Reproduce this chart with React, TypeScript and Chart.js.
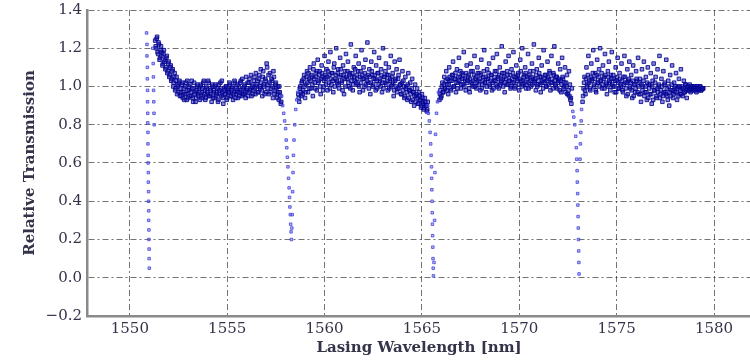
import React, { useEffect, useRef } from 'react';
import { Chart, registerables } from 'chart.js';

Chart.register(...registerables);

// Axis ticks and titles
const xTicks = [1550, 1555, 1560, 1565, 1570, 1575, 1580];
const yTicks = [-0.2, 0.0, 0.2, 0.4, 0.6, 0.8, 1.0, 1.2, 1.4];
const xTitle = 'Lasing Wavelength [nm]';
const yTitle = 'Relative Transmission';
const xMin = 1547.8;
const xMax = 1581.9;

// Wavelength sweep step of the laser (nm)
const sweepStep = 0.05;

// Sweep A, band 1: 1551.30 .. 1557.75 nm
const band1Start = 1551.3;
const band1 = [
  1.24, 1.20, 1.26, 1.17, 1.22, 1.15, 1.21, 1.18, 1.12, 1.19,
  1.14, 1.10, 1.16, 1.08, 1.13, 1.06, 1.11, 1.04, 1.09, 1.02,
  1.07, 0.99, 1.05, 1.01, 0.97, 1.03,
  0.99, 0.95, 1.02, 0.97, 0.93, 1.00, 0.96, 1.03, 0.94, 0.98,
  1.01, 0.95, 0.99, 0.92, 1.02, 0.97, 0.94, 1.00, 0.96, 0.99,
  0.93, 1.01, 0.97, 0.95, 1.03, 0.98, 0.94, 0.99, 0.96, 1.02,
  0.95, 0.98, 0.92, 1.00, 0.97, 0.94, 1.01, 0.96, 0.99, 0.93,
  0.98, 1.02, 0.95, 0.97, 0.91, 0.99, 0.96, 1.00, 0.94, 0.98,
  0.97, 1.01, 0.95, 0.99, 0.93, 0.97, 1.02, 0.96, 0.98, 0.94,
  1.00, 0.97, 1.03, 0.95, 0.99, 0.96, 1.01, 0.94, 0.98, 1.02,
  0.97, 1.04, 0.99, 0.95, 1.01, 0.98, 1.05, 0.96, 1.00, 1.03,
  0.97, 1.06, 0.99, 1.02, 0.95, 1.08, 1.00, 1.04, 0.97, 1.10,
  1.01, 0.96, 1.07, 0.99, 1.03, 0.94, 1.05, 0.98,
  1.02, 0.96, 1.00, 0.93, 0.97, 0.91,
];
// Sweep B, band 1
const band1bStart = 1551.325;
const band1b = [
  1.21, 1.25, 1.18, 1.23, 1.14, 1.19, 1.16, 1.11, 1.17, 1.13,
  1.09, 1.15, 1.07, 1.12, 1.05, 1.10, 1.03, 1.08, 1.00, 1.05,
  0.98, 1.03, 0.96, 1.00, 1.02, 0.95,
  0.97, 1.01, 0.94, 0.99, 0.96, 1.02, 0.93, 0.98, 1.00, 0.95,
  0.97, 1.03, 0.94, 0.99, 0.96, 0.92, 0.98, 1.01, 0.95, 0.97,
  1.00, 0.94, 0.99, 1.02, 0.96, 0.93, 1.00, 0.97, 1.03, 0.95,
  0.99, 0.96, 1.01, 0.94, 0.98, 1.00, 0.95, 0.97, 0.92, 1.01,
  0.96, 0.99, 1.03, 0.94, 0.98, 0.96, 1.00, 0.93, 0.99, 0.97,
  1.02, 0.95, 0.98, 1.00, 0.96, 1.03, 0.94, 0.99, 1.01, 0.97,
  0.95, 1.02, 0.98, 1.04, 0.96, 1.00, 0.97, 1.05, 0.99, 0.95,
  1.02, 0.98, 1.06, 1.00, 0.96, 1.03, 0.99, 1.07, 1.01, 0.97,
  1.04, 1.00, 1.09, 0.98, 1.05, 1.01, 0.96, 1.03, 1.12, 0.99,
  1.06, 1.02, 0.97, 1.04, 1.00, 1.08, 0.96, 1.01, 0.99, 0.94,
  0.97, 1.00, 0.95, 0.92,
];

// Sweep A, band 2: 1558.65 .. 1565.30 nm
const band2Start = 1558.65;
const band2 = [
  0.96, 0.92, 1.00, 0.95, 1.03, 0.98, 1.06, 0.94, 1.01, 1.08,
  0.97, 1.04, 1.10, 0.99, 1.05, 0.95, 1.12, 1.02, 1.07, 0.98,
  1.14, 1.03, 1.08, 0.96, 1.11, 1.05, 1.00, 1.16, 1.04, 1.09,
  0.98, 1.13, 1.06, 1.18, 1.01, 1.07, 0.97, 1.12, 1.04, 1.20,
  1.02, 1.09, 0.99, 1.15, 1.06, 1.03, 1.11, 0.96, 1.08, 1.17,
  1.04, 1.13, 1.00, 1.07, 1.22, 1.05, 0.98, 1.10, 1.03, 1.16,
  1.06, 1.01, 1.12, 0.97, 1.08, 1.19, 1.04, 1.10, 1.00, 1.14,
  1.05, 1.23, 1.02, 1.09, 0.96, 1.13, 1.06, 1.01, 1.18, 1.04,
  1.11, 0.99, 1.07, 1.15, 1.03, 1.09, 0.97, 1.20, 1.05, 1.02,
  1.12, 1.06, 0.98, 1.10, 1.03, 1.16, 1.01, 1.07, 0.95, 1.13,
  1.04, 1.09, 0.99, 1.06, 1.14, 1.01, 0.96, 1.08, 1.03, 0.94,
  1.05, 1.00, 0.93, 1.07, 0.98, 1.02, 0.92, 1.04, 0.97, 0.90,
  1.01, 0.95, 0.99, 0.91, 0.97, 0.93, 0.89, 0.96, 0.92, 0.88,
  0.94, 0.90, 0.87, 0.92,
];
// Sweep B, band 2
const band2bStart = 1558.675;
const band2b = [
  0.94, 0.99, 0.97, 1.02, 0.96, 1.04, 1.00, 0.97, 1.05, 1.02,
  1.07, 0.99, 1.03, 1.06, 1.01, 1.09, 1.04, 0.99, 1.05, 1.08,
  1.02, 1.06, 1.00, 1.04, 1.07, 0.98, 1.03, 1.06, 1.01, 1.05,
  1.08, 1.02, 0.99, 1.04, 1.07, 1.03, 1.10, 1.00, 1.06, 1.03,
  1.07, 1.01, 1.05, 1.09, 1.02, 0.98, 1.06, 1.04, 1.00, 1.05,
  1.08, 1.02, 1.06, 0.99, 1.03, 1.07, 1.01, 1.05, 1.09, 1.02,
  1.04, 1.08, 1.00, 1.05, 1.02, 1.06, 0.98, 1.04, 1.07, 1.01,
  1.03, 1.06, 0.99, 1.05, 1.02, 1.08, 1.00, 1.04, 1.06, 0.98,
  1.03, 1.07, 1.01, 1.04, 1.00, 1.06, 1.02, 0.99, 1.05, 1.08,
  1.01, 1.03, 1.06, 0.99, 1.04, 1.00, 1.05, 1.02, 0.98, 1.03,
  1.00, 0.97, 1.04, 0.99, 1.01, 0.96, 1.02, 0.98, 1.00, 0.95,
  0.99, 0.97, 1.01, 0.94, 0.98, 0.96, 0.99, 0.93, 0.97, 0.95,
  0.92, 0.96, 0.94, 0.91, 0.95, 0.93, 0.90, 0.94, 0.91, 0.89,
  0.92, 0.90, 0.88,
];

// Sweep A, band 3: 1565.90 .. 1572.70 nm
const band3Start = 1565.9;
const band3 = [
  0.93, 0.98, 0.95, 1.02, 0.97, 1.05, 0.99, 1.08, 1.01, 0.96,
  1.10, 1.03, 0.98, 1.06, 1.13, 1.00, 1.04, 0.97, 1.09, 1.02,
  1.15, 1.05, 0.99, 1.07, 1.01, 1.18, 1.04, 0.98, 1.11, 1.03,
  1.06, 0.97, 1.12, 1.02, 1.08, 1.00, 1.16, 1.04, 0.99, 1.10,
  1.03, 1.07, 0.98, 1.14, 1.01, 1.05, 1.19, 1.02, 0.97, 1.09,
  1.04, 1.12, 1.00, 1.06, 0.98, 1.15, 1.03, 1.08, 1.01, 1.17,
  1.05, 0.99, 1.10, 1.02, 1.21, 1.04, 1.07, 0.97, 1.13, 1.01,
  1.06, 1.16, 1.03, 0.99, 1.09, 1.02, 1.18, 1.05, 1.00, 1.11,
  1.04, 1.07, 0.98, 1.14, 1.03, 1.20, 1.01, 1.06, 1.10, 0.99,
  1.05, 1.17, 1.02, 1.08, 1.00, 1.12, 1.04, 1.22, 1.03, 0.98,
  1.09, 1.01, 1.15, 1.05, 0.97, 1.11, 1.03, 1.19, 1.02, 1.06,
  1.00, 1.13, 1.04, 1.08, 0.98, 1.16, 1.02, 1.07, 1.21, 1.01,
  1.05, 0.99, 1.12, 1.03, 1.09, 0.97, 1.15, 1.04, 1.00, 1.10,
  1.02, 1.06, 0.96, 1.08, 1.01, 0.94, 0.99,
];
// Sweep B, band 3
const band3bStart = 1565.925;
const band3b = [
  0.96, 0.94, 1.00, 0.97, 1.01, 0.99, 1.03, 0.98, 1.04, 1.01,
  1.05, 0.99, 1.03, 1.06, 1.00, 1.04, 1.07, 1.02, 0.99, 1.05,
  1.03, 1.08, 1.01, 1.04, 1.06, 1.00, 1.03, 1.07, 1.02, 1.05,
  0.99, 1.04, 1.08, 1.01, 1.03, 1.06, 1.00, 1.05, 1.02, 1.07,
  1.01, 1.04, 1.06, 0.99, 1.03, 1.08, 1.02, 1.05, 1.00, 1.04,
  1.07, 1.01, 1.03, 1.06, 1.02, 0.99, 1.05, 1.03, 1.08, 1.00,
  1.04, 1.06, 1.01, 1.03, 1.07, 1.00, 1.05, 1.02, 1.04, 1.08,
  1.01, 1.03, 1.06, 1.00, 1.04, 1.07, 1.02, 0.99, 1.05, 1.03,
  1.06, 1.01, 1.04, 1.08, 1.00, 1.03, 1.05, 1.02, 1.07, 1.01,
  1.04, 0.99, 1.06, 1.03, 1.05, 1.01, 1.08, 1.02, 1.04, 1.06,
  1.00, 1.03, 1.07, 1.01, 1.05, 1.02, 0.99, 1.04, 1.06, 1.00,
  1.03, 1.05, 1.01, 1.07, 1.02, 1.04, 0.99, 1.06, 1.03, 1.00,
  1.05, 1.02, 1.04, 0.98, 1.03, 1.01, 1.05, 0.99, 1.02, 0.97,
  1.00, 0.96, 0.98, 0.95, 0.93, 0.91,
];

// Sweep A, band 4: 1573.25 .. 1579.45 nm
const band4Start = 1573.25;
const band4 = [
  0.92, 0.99, 1.05, 0.96, 1.10, 1.01, 1.16, 1.03, 0.98, 1.12,
  1.04, 1.19, 1.00, 1.07, 0.97, 1.14, 1.02, 1.09, 1.20, 1.03,
  0.99, 1.11, 1.05, 1.17, 1.01, 0.96, 1.08, 1.13, 1.02, 1.06,
  1.18, 1.00, 1.04, 0.97, 1.10, 1.03, 1.15, 0.99, 1.07, 1.01,
  1.12, 0.98, 1.05, 1.16, 1.02, 0.95, 1.09, 1.03, 1.13, 0.99,
  1.06, 0.94, 1.11, 1.01, 0.97, 1.08, 1.03, 1.15, 0.96, 1.04,
  0.92, 1.09, 1.00, 1.13, 0.97, 1.05, 0.93, 1.10, 1.01, 0.96,
  1.07, 0.91, 1.03, 1.12, 0.98, 1.05, 0.94, 1.09, 1.00, 1.16,
  0.96, 1.04, 0.92, 1.08, 1.01, 0.97, 1.14, 0.95, 1.03, 0.90,
  1.06, 0.98, 1.11, 0.94, 1.02, 0.97, 1.07, 0.93, 1.00, 1.04,
  0.96, 1.09, 0.99, 0.95, 1.03, 0.97, 1.01, 0.94, 1.00, 0.98,
  1.01, 0.97, 0.99, 1.00, 0.98, 1.00, 0.99, 0.97, 1.00, 0.98,
  0.99, 1.00, 0.98, 0.99, 0.99,
];
// Sweep B, band 4
const band4bStart = 1573.275;
const band4b = [
  0.95, 1.02, 0.98, 1.04, 1.00, 1.06, 1.02, 0.99, 1.05, 1.03,
  1.07, 1.01, 1.04, 0.98, 1.06, 1.02, 1.05, 1.00, 1.03, 1.07,
  1.01, 1.04, 0.99, 1.06, 1.02, 1.00, 1.05, 1.03, 0.98, 1.04,
  1.01, 1.06, 1.00, 1.03, 0.97, 1.05, 1.02, 0.99, 1.04, 1.00,
  1.03, 0.97, 1.01, 1.05, 0.99, 1.02, 0.96, 1.04, 1.00, 1.02,
  0.98, 1.03, 0.95, 1.01, 0.99, 1.04, 0.97, 1.00, 1.02, 0.96,
  1.01, 0.98, 1.03, 0.95, 1.00, 0.97, 1.02, 0.94, 0.99, 1.01,
  0.96, 1.00, 0.93, 0.98, 1.02, 0.95, 0.99, 0.97, 1.01, 0.94,
  0.98, 1.00, 0.95, 0.97, 1.02, 0.96, 0.99, 0.93, 1.00, 0.97,
  0.95, 1.01, 0.98, 0.96, 0.99, 1.00, 0.97, 0.99, 0.95, 1.00,
  0.98, 0.96, 1.00, 0.99, 0.97, 1.01, 0.98, 0.99, 1.00, 0.98,
  0.99, 1.00, 0.98, 0.99, 1.00, 0.99, 0.98, 1.00, 0.99, 0.99,
  1.00, 0.98, 0.99, 0.99,
];

// Absorption dips (explicit wavelength / transmission pairs)
const dip1X = [
  1550.86, 1550.88, 1550.88, 1550.9, 1550.9, 1550.91, 1550.91, 1550.92, 1550.92, 1550.93,
  1550.93, 1550.94, 1550.94, 1550.95, 1550.95, 1550.96, 1550.96, 1550.97, 1550.97, 1550.98,
  1550.98, 1550.99, 1550.99, 1551.0,
  1551.18, 1551.2, 1551.21, 1551.22, 1551.23, 1551.24, 1551.25,
];
const dip1Y = [
  1.28, 1.22, 1.16, 1.10, 1.04, 0.98, 0.92, 0.86, 0.81, 0.76,
  0.70, 0.64, 0.60, 0.55, 0.50, 0.45, 0.40, 0.35, 0.30, 0.25,
  0.20, 0.15, 0.10, 0.05,
  1.20, 1.12, 1.05, 0.98, 0.92, 0.86, 0.80,
];

const dip2X = [
  1557.8, 1557.85, 1557.9, 1557.95, 1558.0, 1558.03, 1558.06, 1558.09, 1558.12, 1558.15,
  1558.18, 1558.2, 1558.22, 1558.24, 1558.26, 1558.28, 1558.3, 1558.32, 1558.34, 1558.36,
  1558.38, 1558.4, 1558.43, 1558.47, 1558.52, 1558.57, 1558.62,
];
const dip2Y = [
  0.95, 0.90, 0.86, 0.82, 0.78, 0.72, 0.68, 0.63, 0.58, 0.52,
  0.47, 0.42, 0.37, 0.33, 0.28, 0.24, 0.20, 0.26, 0.33, 0.45,
  0.55, 0.64, 0.72, 0.80, 0.88, 0.93, 0.97,
];

const dip3X = [
  1565.3, 1565.33, 1565.38, 1565.42, 1565.45, 1565.47, 1565.49, 1565.5, 1565.51, 1565.52,
  1565.53, 1565.54, 1565.55, 1565.56, 1565.57, 1565.58, 1565.59, 1565.62, 1565.65, 1565.67,
  1565.7, 1565.75, 1565.8, 1565.85,
];
const dip3Y = [
  0.90, 0.86, 0.82, 0.76, 0.70, 0.64, 0.58, 0.52, 0.46, 0.40,
  0.34, 0.28, 0.22, 0.16, 0.10, 0.05, 0.01, 0.08, 0.30, 0.55,
  0.75, 0.86, 0.92, 0.97,
];

const dip4X = [
  1572.75, 1572.8, 1572.85, 1572.9, 1572.93, 1572.95, 1572.97, 1572.98, 1573.0, 1573.01,
  1573.02, 1573.03, 1573.04, 1573.05, 1573.06, 1573.07,
  1573.12, 1573.14, 1573.16, 1573.18, 1573.2,
];
const dip4Y = [
  0.87, 0.84, 0.80, 0.74, 0.68, 0.62, 0.56, 0.50, 0.44, 0.38,
  0.32, 0.26, 0.20, 0.14, 0.08, 0.02,
  0.62, 0.70, 0.76, 0.82, 0.88,
];

const sweep = (start: number, ys: number[]) =>
  ys.map((y, i) => ({ x: start + i * sweepStep, y }));
const pairs = (xs: number[], ys: number[]) => xs.map((x, i) => ({ x, y: ys[i] }));

export default function App() {
  const ref = useRef<HTMLCanvasElement | null>(null);

  useEffect(() => {
    if (!ref.current) return;
    const bandPoints = [
      ...sweep(band1Start, band1),
      ...sweep(band1bStart, band1b),
      ...sweep(band2Start, band2),
      ...sweep(band2bStart, band2b),
      ...sweep(band3Start, band3),
      ...sweep(band3bStart, band3b),
      ...sweep(band4Start, band4),
      ...sweep(band4bStart, band4b),
    ];
    const dipPoints = [
      ...pairs(dip1X, dip1Y),
      ...pairs(dip2X, dip2Y),
      ...pairs(dip3X, dip3Y),
      ...pairs(dip4X, dip4Y),
    ];
    const tickFont = { family: 'DejaVu Serif', size: 15 };
    const titleFont = { family: 'DejaVu Serif', size: 15, weight: 'bold' as const };
    const textColor = '#33334a';
    const gridColor = 'rgba(0,0,0,0.55)';

    const chart = new Chart(ref.current, {
      type: 'scatter',
      data: {
        datasets: [
          {
            label: 'dips',
            data: dipPoints,
            pointStyle: 'rect',
            pointRadius: 1.8,
            backgroundColor: 'rgba(90,90,240,0.45)',
            borderColor: 'rgba(60,60,220,0.75)',
            borderWidth: 1,
          },
          {
            label: 'transmission',
            data: bandPoints,
            pointStyle: 'rect',
            pointRadius: 2.5,
            backgroundColor: 'rgba(20,20,185,0.5)',
            borderColor: 'rgba(5,5,140,0.85)',
            borderWidth: 1,
          },
        ],
      },
      options: {
        responsive: false,
        animation: false,
        devicePixelRatio: 1,
        layout: { padding: { top: 0, right: 0, bottom: 0, left: 0 } },
        plugins: { legend: { display: false }, tooltip: { enabled: false } },
        scales: {
          x: {
            type: 'linear',
            min: xMin,
            max: xMax,
            afterBuildTicks: (s: any) => {
              s.ticks = xTicks.map((v) => ({ value: v }));
            },
            afterFit: (s: any) => {
              s.height = 45;
            },
            ticks: {
              font: tickFont,
              color: textColor,
              padding: 4,
              maxRotation: 0,
              autoSkip: false,
              callback: (v: any) => String(v),
            },
            grid: { color: gridColor, lineWidth: 1, drawTicks: false },
            border: { display: true, color: '#8a8a8a', width: 2.5, dash: [6, 3, 2, 3] },
            title: {
              display: true,
              text: xTitle,
              font: titleFont,
              color: textColor,
              padding: { top: 0, bottom: 4 },
            },
          },
          y: {
            type: 'linear',
            min: -0.2,
            max: 1.4,
            afterBuildTicks: (s: any) => {
              s.ticks = yTicks.map((v) => ({ value: v }));
            },
            afterFit: (s: any) => {
              s.width = 87;
            },
            ticks: {
              font: tickFont,
              color: textColor,
              padding: 5,
              autoSkip: false,
              callback: (v: any) => {
                const n = Number(v);
                const t = Math.abs(n).toFixed(1);
                return n < -1e-9 ? '\u2212' + t : t;
              },
            },
            grid: { color: gridColor, lineWidth: 1, drawTicks: false },
            border: { display: true, color: '#8a8a8a', width: 2.5, dash: [6, 3, 2, 3] },
            title: {
              display: true,
              text: yTitle,
              font: titleFont,
              color: textColor,
              padding: { top: 21, bottom: 0 },
            },
          },
        },
      },
    });
    return () => chart.destroy();
  }, []);

  return (
    <div style={{ position: 'fixed', left: 0, top: 0, width: 750, height: 361, overflow: 'hidden', background: '#fff' }}>
      <canvas
        ref={ref}
        width={756}
        height={365}
        style={{ position: 'absolute', left: 0, top: -4, display: 'block', width: 756, height: 365, filter: 'blur(0.5px)' }}
      />
    </div>
  );
}
